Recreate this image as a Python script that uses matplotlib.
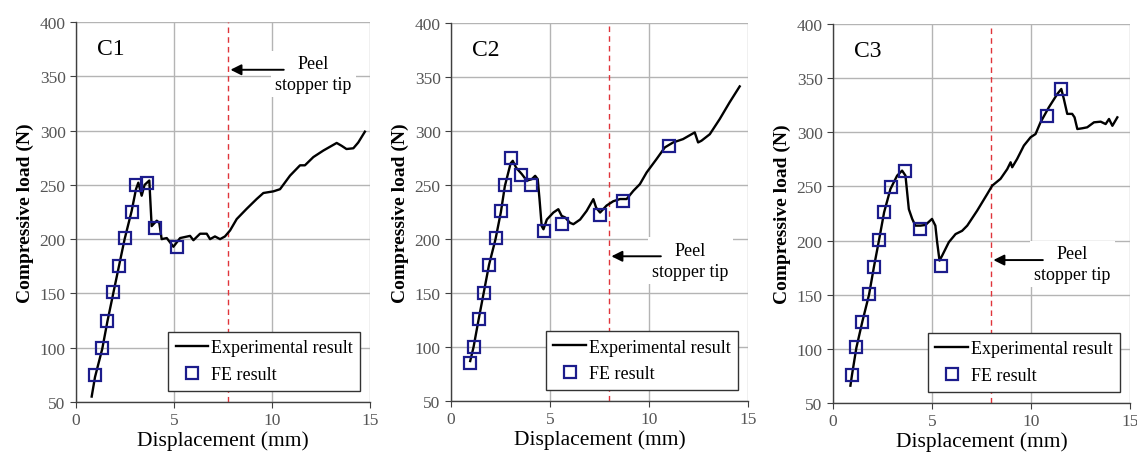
import numpy as np
import matplotlib
matplotlib.use('Agg')
import matplotlib.pyplot as plt

plt.rcParams['font.family'] = ['Liberation Serif', 'DejaVu Serif']

# ---- C1 ----
c1_exp_x = [0.80, 0.97, 1.34, 1.60, 1.90, 2.19, 2.48, 2.84, 3.06, 3.18, 3.35, 3.50, 3.74, 3.86,
            4.12, 4.25, 4.37, 4.63, 4.97, 5.31, 5.82, 5.99, 6.33, 6.67, 6.84, 7.09, 7.35, 7.60,
            7.86, 8.20, 8.71, 9.22, 9.56, 10.07, 10.41, 10.92, 11.43, 11.68, 12.11, 12.62,
            13.30, 13.55, 13.80, 14.15, 14.40, 14.74]
c1_exp_y = [55, 73, 99, 124, 150, 175, 200, 226, 246, 252, 240, 250, 254, 212,
            217, 215, 200, 201, 193, 201, 203, 199, 205, 205, 200, 202.5, 200, 202.5,
            208, 218.5, 228, 237, 242.5, 244, 246, 258.5, 268, 268, 275.6, 281.6,
            288.6, 286, 283, 283.7, 289, 299]
c1_fe_x = [0.97, 1.34, 1.60, 1.90, 2.19, 2.48, 2.84, 3.06, 3.62, 4.05, 5.14]
c1_fe_y = [75, 100, 125, 151, 175.5, 201, 225.3, 250, 251.7, 210.5, 192.4]

# ---- C2 ----
c2_exp_x = [0.97, 1.14, 1.39, 1.65, 1.92, 2.25, 2.52, 2.72, 3.01, 3.12, 3.29, 3.58, 3.83, 4.08,
            4.25, 4.38, 4.47, 4.58, 4.67, 4.84, 5.17, 5.42, 5.59, 5.76, 6.01, 6.18, 6.52,
            6.85, 7.19, 7.33, 7.53, 7.86, 8.20, 8.54, 8.87, 9.21, 9.54, 9.88, 10.38, 10.80,
            11.22, 11.72, 12.31, 12.48, 12.65, 13.07, 13.57, 14.07, 14.58]
c2_exp_y = [87, 100, 125, 150, 176, 200, 225, 249, 270, 272.4, 266, 260, 254, 255.4,
            258.5, 255.4, 237, 212, 209, 218, 224.5, 227.6, 221.4, 220, 215, 213.7, 218,
            226, 236.9, 229, 224.5, 231, 235, 237, 237, 244.6, 250.8, 261.6, 274, 284.8,
            289.4, 292.5, 298.7, 289.4, 291, 297, 311, 326.5, 341.3]
c2_fe_x = [0.94, 1.14, 1.39, 1.65, 1.92, 2.25, 2.52, 2.72, 3.01, 3.54, 4.03, 4.72, 5.61, 7.54,
           8.67, 11.02]
c2_fe_y = [85.5, 100, 125.7, 150.4, 176, 200.7, 225.5, 250.2, 274.6, 259.4, 250.2, 207.8,
           214.3, 222, 235.3, 286.3]

# ---- C3 ----
c3_exp_x = [0.88, 0.96, 1.18, 1.48, 1.82, 2.07, 2.33, 2.58, 2.90, 3.24, 3.49, 3.66, 3.83, 4.00,
            4.16, 4.42, 4.67, 5.00, 5.17, 5.26, 5.38, 5.51, 5.85, 6.19, 6.52, 6.78, 7.28,
            7.79, 8.04, 8.46, 8.80, 8.97, 9.05, 9.30, 9.64, 9.98, 10.23, 10.48, 10.90,
            11.33, 11.53, 11.66, 11.83, 12.08, 12.20, 12.34, 12.59, 12.84, 13.18, 13.52,
            13.77, 13.94, 14.11, 14.36]
c3_exp_y = [66, 76, 101, 125, 150, 176, 201, 226, 247.6, 260, 264.6, 260, 229, 220,
            213.8, 213.8, 214.4, 220, 213.8, 198.5, 181.5, 186, 198.5, 206, 209, 213.8, 227.6,
            243, 250.7, 257, 266, 272.3, 267.7, 275.4, 287.7, 295.4, 298.4, 309.2, 323,
            335.4, 340, 330.7, 317, 317, 313.8, 303, 303.7, 304.6, 309.2, 309.8,
            307.6, 312.3, 306, 313.8]
c3_fe_x = [0.96, 1.18, 1.48, 1.82, 2.07, 2.33, 2.58, 2.93, 3.62, 4.37, 5.46, 10.79, 11.50]
c3_fe_y = [76, 101.4, 125.2, 150.4, 176, 200.9, 226, 249.8, 264.6, 210.7, 176.8, 314.7, 340]

panels = [
    ('C1', c1_exp_x, c1_exp_y, c1_fe_x, c1_fe_y, 7.78, 356, [76, 23, 294, 380]),
    ('C2', c2_exp_x, c2_exp_y, c2_fe_x, c2_fe_y, 8.0, 184, [451, 24, 297, 378]),
    ('C3', c3_exp_x, c3_exp_y, c3_fe_x, c3_fe_y, 8.0, 182, [833, 25, 297, 379]),
]

W, H = 1137, 456
fig = plt.figure(figsize=(W / 100, H / 100), dpi=100)

for name, ex, ey, fx, fy, tip_x, arrow_y, box in panels:
    px, py, pw, ph = box
    ax = fig.add_axes([px / W, (H - py - ph) / H, pw / W, ph / H])
    ax.set_xlim(0, 15)
    ax.set_ylim(50, 400)
    ax.set_xticks([0, 5, 10, 15])
    ax.set_yticks(np.arange(50, 401, 50))
    ax.grid(True, color='#b4b4b4', linewidth=1.0)
    ax.set_axisbelow(True)
    for s in ['top', 'right']:
        ax.spines[s].set_visible(False)
    for s in ['left', 'bottom']:
        ax.spines[s].set_color('#404040')
        ax.spines[s].set_linewidth(1.0)
    ax.tick_params(direction='out', length=4, color='#404040', labelcolor='#555555',
                   labelsize=12.5)

    ax.axvline(tip_x, color='#e0343a', linestyle=(0, (4, 3)), linewidth=1.0, zorder=2)
    ax.plot(ex, ey, color='black', linewidth=1.7, label='Experimental result', zorder=3)
    ax.plot(fx, fy, linestyle='none', marker='s', markersize=8, markerfacecolor='none',
            markeredgecolor='#1c1c8c', markeredgewidth=1.6, label='FE result', zorder=4)

    ax.text(0.07, 0.93, name, transform=ax.transAxes, fontsize=17, va='center', ha='left')

    ax.text(12.1, arrow_y - 4, 'Peel\nstopper tip', fontsize=13, ha='center', va='center',
            linespacing=1.3, zorder=5,
            bbox=dict(facecolor='white', edgecolor='none', pad=3))
    ax.annotate('', xy=(tip_x + 0.1, arrow_y), xytext=(10.6, arrow_y),
                arrowprops=dict(arrowstyle='-|>', color='black', lw=1.4,
                                mutation_scale=16, shrinkA=0, shrinkB=0), zorder=6)

    leg = ax.legend(loc='lower right', bbox_to_anchor=(0.965, 0.03), borderaxespad=0,
                    fontsize=13, fancybox=False, framealpha=1, edgecolor='#333333',
                    handlelength=1.8, handletextpad=0.15, borderpad=0.4, labelspacing=0.55)
    leg.get_frame().set_linewidth(1.0)

    ax.set_xlabel('Displacement (mm)', fontsize=15.5, labelpad=1)
    ax.set_ylabel('Compressive load (N)', fontsize=14, fontweight='bold', labelpad=4)

fig.savefig('out.png', dpi=100)
